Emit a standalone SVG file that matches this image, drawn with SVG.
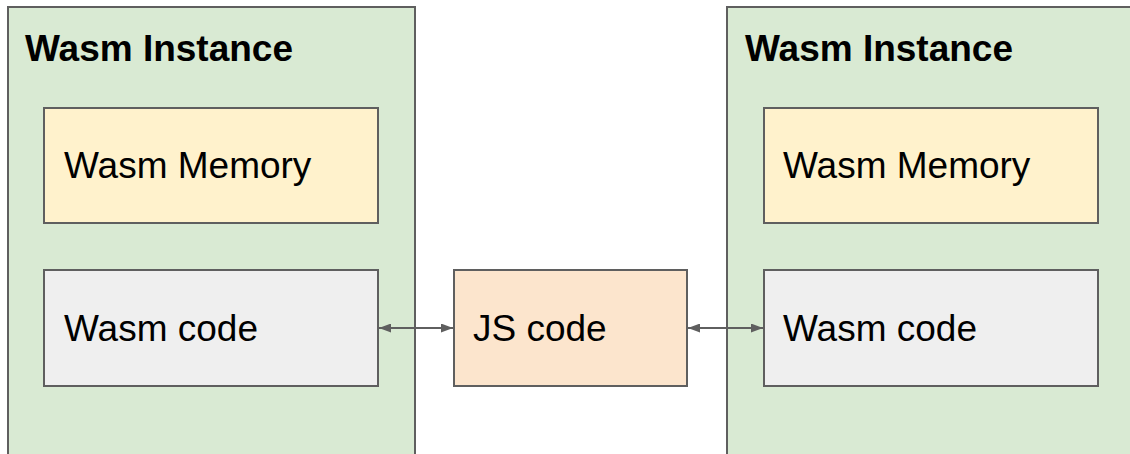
<svg xmlns="http://www.w3.org/2000/svg" width="1130" height="454" viewBox="0 0 1130 454">
  <style>
    .box { stroke: #5f5f5f; stroke-width: 2; }
    .inst { fill: #d9ead3; }
    .mem { fill: #fff2cc; }
    .code { fill: #efefef; }
    .js { fill: #fce5cd; }
    .title { font-family: "Liberation Sans", Arial, sans-serif; font-size: 37px; font-weight: bold; fill: #000; }
    .label { font-family: "Liberation Sans", Arial, sans-serif; font-size: 37px; fill: #000; }
    .conn { stroke: #5f5f5f; stroke-width: 2; fill: none; }
  </style>
  <defs>
    <marker id="arrow" viewBox="0 0 12 9" refX="12" refY="4.5" markerWidth="12" markerHeight="9" orient="auto-start-reverse" markerUnits="userSpaceOnUse">
      <path d="M0,0 L12,4.5 L0,9 z" fill="#5f5f5f"/>
    </marker>
  </defs>
  <rect width="1130" height="454" fill="#ffffff"/>

  <g id="instance-left">
    <rect class="box inst" x="8" y="7" width="407" height="460"/>
    <text class="title" x="25" y="61">Wasm Instance</text>
  </g>
  <g id="instance-right">
    <rect class="box inst" x="727" y="7" width="420" height="460"/>
    <text class="title" x="745" y="61">Wasm Instance</text>
  </g>

  <g id="memory-left">
    <rect class="box mem" x="44" y="108" width="334" height="115"/>
    <text class="label" x="64" y="178">Wasm Memory</text>
  </g>
  <g id="code-left">
    <rect class="box code" x="44" y="270" width="334" height="116"/>
    <text class="label" x="64" y="341">Wasm code</text>
  </g>
  <g id="js-code">
    <rect class="box js" x="454" y="270" width="233" height="116"/>
    <text class="label" x="473" y="341">JS code</text>
  </g>
  <g id="memory-right">
    <rect class="box mem" x="764" y="108" width="334" height="115"/>
    <text class="label" x="783" y="178">Wasm Memory</text>
  </g>
  <g id="code-right">
    <rect class="box code" x="764" y="270" width="334" height="116"/>
    <text class="label" x="783" y="341">Wasm code</text>
  </g>

  <g id="connectors">
    <line class="conn" x1="379" y1="328" x2="453" y2="328" marker-start="url(#arrow)" marker-end="url(#arrow)"/>
    <line class="conn" x1="688" y1="328" x2="763" y2="328" marker-start="url(#arrow)" marker-end="url(#arrow)"/>
  </g>
</svg>
